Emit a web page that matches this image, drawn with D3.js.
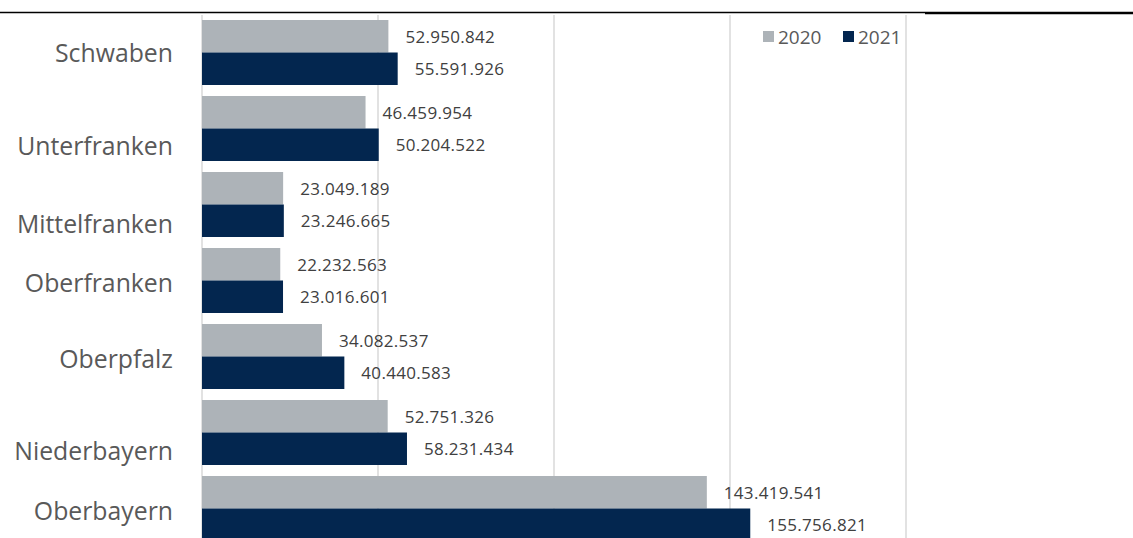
<!DOCTYPE html>
<html>
<head>
<meta charset="utf-8">
<script src="https://cdn.jsdelivr.net/npm/d3@7"></script>
<style>
  body { margin: 0; background: #fff; }
  svg { display: block; font-family: "Open Sans", Lato, sans-serif; }
</style>
</head>
<body>
<div id="chart"></div>
<script>
// regions, top to bottom
var regions = ["Schwaben", "Unterfranken", "Mittelfranken", "Oberfranken", "Oberpfalz", "Niederbayern", "Oberbayern"];
var years = ["2020", "2021"];
var values2020 = [52950842, 46459954, 23049189, 22232563, 34082537, 52751326, 143419541];
var values2021 = [55591926, 50204522, 23246665, 23016601, 40440583, 58231434, 155756821];
var gridTicks = [0, 50000000, 100000000, 150000000, 200000000];

// the category labels in the original sit a bit off-centre
var labelShift = [-1, 16, 18, 1, 1, 17, 1];
var colors = { "2020": "#adb3b8", "2021": "#03264f" };

var W = 1133, H = 538;

var svg = d3.select("#chart").append("svg")
  .attr("width", W)
  .attr("height", H);

var x = d3.scaleLinear().domain([0, 200000000]).range([202, 906]);

var y = d3.scaleBand()
  .domain(regions)
  .range([14.5, 14.5 + 76 * regions.length])
  .paddingInner(11 / 76)
  .paddingOuter(5.5 / 76);

var ySub = d3.scaleBand().domain(years).range([0, y.bandwidth()]);

var fmt = function(v) { return d3.format(",")(v).replace(/,/g, "."); };

// gridlines
svg.append("g").selectAll("line")
  .data(gridTicks)
  .join("line")
  .attr("x1", function(d) { return x(d); })
  .attr("x2", function(d) { return x(d); })
  .attr("y1", 15)
  .attr("y2", H)
  .attr("stroke", "#d9d9d9")
  .attr("stroke-width", 1.5);

// top rule
svg.append("line").attr("x1", 0).attr("x2", 925).attr("y1", 12.5).attr("y2", 12.5)
  .attr("stroke", "#000").attr("stroke-width", 1.3);
svg.append("line").attr("x1", 925).attr("x2", W).attr("y1", 13).attr("y2", 13)
  .attr("stroke", "#000").attr("stroke-width", 2.4);

var rows = regions.map(function(r, i) {
  return { region: r, i: i, vals: [
    { year: "2020", v: values2020[i] },
    { year: "2021", v: values2021[i] }
  ] };
});

var groups = svg.append("g").selectAll("g")
  .data(rows)
  .join("g")
  .attr("transform", function(d) { return "translate(0," + y(d.region) + ")"; });

groups.selectAll("rect")
  .data(function(d) { return d.vals; })
  .join("rect")
  .attr("x", x(0))
  .attr("y", function(d) { return ySub(d.year); })
  .attr("width", function(d) { return x(d.v) - x(0); })
  .attr("height", ySub.bandwidth())
  .attr("fill", function(d) { return colors[d.year]; });

groups.selectAll("text.val")
  .data(function(d) { return d.vals; })
  .join("text")
  .attr("class", "val")
  .attr("x", function(d) { return x(d.v) + 17; })
  .attr("y", function(d) { return ySub(d.year) + ySub.bandwidth() / 2; })
  .attr("dominant-baseline", "central")
  .attr("font-size", 17)
  .attr("letter-spacing", 0.3)
  .attr("fill", "#404040")
  .text(function(d) { return fmt(d.v); });

// category labels
groups.append("text")
  .attr("x", 173)
  .attr("y", function(d) { return y.bandwidth() / 2 + labelShift[d.i]; })
  .attr("text-anchor", "end")
  .attr("dominant-baseline", "central")
  .attr("font-size", 24.8)
  .attr("fill", "#595959")
  .text(function(d) { return d.region; });

// legend
var legend = svg.append("g").selectAll("g")
  .data(years)
  .join("g")
  .attr("transform", function(d, i) { return "translate(" + (763 + i * 80) + ",37)"; });

legend.append("rect")
  .attr("x", 0).attr("y", -6)
  .attr("width", 11).attr("height", 11)
  .attr("fill", function(d) { return colors[d]; });

legend.append("text")
  .attr("x", 15)
  .attr("y", 0)
  .attr("dominant-baseline", "central")
  .attr("font-size", 19)
  .attr("fill", "#595959")
  .text(function(d) { return d; });
</script>
</body>
</html>
